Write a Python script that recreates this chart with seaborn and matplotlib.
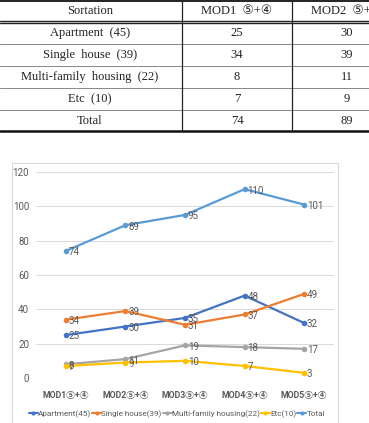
import pandas as pd
import numpy as np
import matplotlib
matplotlib.use('Agg')
import matplotlib.pyplot as plt
import seaborn as sns
from matplotlib.lines import Line2D

# table data
table_cols = ['Sortation', 'MOD1  ⑤+④', 'MOD2  ⑤+④']
table_rows = ['Apartment  (45)', 'Single  house  (39)', 'Multi-family  housing  (22)', 'Etc  (10)', 'Total']
table_mod1 = [25, 34, 8, 7, 74]
table_mod2 = [30, 39, 11, 9, 89]

# chart data
mods = ['MOD1⑤+④', 'MOD2⑤+④', 'MOD3⑤+④', 'MOD4⑤+④', 'MOD5⑤+④']
apartment = [25, 30, 35, 48, 32]
single_house = [34, 39, 31, 37, 49]
multi_family = [8, 11, 19, 18, 17]
etc = [7, 9, 10, 7, 3]
total = [74, 89, 95, 110, 101]

series = {
    'Apartment(45)': apartment,
    'Single house(39)': single_house,
    'Multi-family housing(22)': multi_family,
    'Etc(10)': etc,
    'Total': total,
}
colors = {
    'Apartment(45)': '#4472C4',
    'Single house(39)': '#ED7D31',
    'Multi-family housing(22)': '#A5A5A5',
    'Etc(10)': '#FFC000',
    'Total': '#5B9BD5',
}

df = pd.DataFrame([(name, m, v) for name, vals in series.items() for m, v in zip(mods, vals)],
                  columns=['series', 'mod', 'value'])

sns.set_style('white')
W, H = 369, 423
fig = plt.figure(figsize=(W / 100, H / 100), dpi=100)
sans = ['Roboto', 'Noto Sans CJK KR', 'DejaVu Sans']
serif = ['Liberation Serif', 'DejaVu Sans']

# ---- table drawn in pixel coordinates ----
tab = fig.add_axes([0, 0, 1, 1])
tab.set_xlim(0, W)
tab.set_ylim(H, 0)
tab.axis('off')

tab.plot([0, W], [0.8, 0.8], color='#222222', lw=1.4)
tab.plot([0, W], [21.5, 21.5], color='#222222', lw=1.0)
tab.plot([0, W], [23.2, 23.2], color='#222222', lw=1.0)
for y in [44, 66, 88, 110]:
    tab.plot([0, W], [y, y], color='#888888', lw=0.7)
tab.plot([0, W], [131, 131], color='#111111', lw=1.8)
for x in [182, 292]:
    tab.plot([x, x], [0, 131], color='#222222', lw=0.9)

col_x = [90, 237, 347]
for cx, txt in zip(col_x, table_cols):
    tab.text(cx, 11.5, txt, ha='center', va='center', fontsize=9, family=serif, color='#222222')
for i, name in enumerate(table_rows):
    cy = 33 + 22 * i
    tab.text(col_x[0], cy, name, ha='center', va='center', fontsize=9, family=serif, color='#222222')
    tab.text(col_x[1], cy, str(table_mod1[i]), ha='center', va='center', fontsize=9, family=serif, color='#222222')
    tab.text(col_x[2], cy, str(table_mod2[i]), ha='center', va='center', fontsize=9, family=serif, color='#222222')

# chart frame
tab.add_patch(plt.Rectangle((12, 163), 326, 265, fill=False, ec='#D9D9D9', lw=0.8))

# ---- line chart ----
ax = fig.add_axes([36 / W, (H - 378) / H, 298 / W, 206 / H])
sns.lineplot(data=df, x='mod', y='value', hue='series', palette=colors, marker='o',
             markersize=4, markeredgewidth=0, linewidth=1.6, ax=ax, legend=False, sort=False)
ax.set_xlim(-0.5, 4.5)
ax.set_ylim(0, 120)
ax.set_yticks(range(0, 121, 20))
ax.grid(axis='y', color='#D9D9D9', lw=0.7)
ax.set_axisbelow(True)
for s in ax.spines.values():
    s.set_visible(False)
ax.set_xlabel('')
ax.set_ylabel('')
ax.tick_params(length=0, labelcolor='#595959')
ax.tick_params(axis='y', pad=5, labelsize=7)
ax.tick_params(axis='x', pad=9, labelsize=6.3)
for lab in ax.get_xticklabels():
    lab.set_fontweight('bold')
    lab.set_family(sans)
for lab in ax.get_yticklabels():
    lab.set_family(sans)

for name, vals in series.items():
    for i, v in enumerate(vals):
        ax.annotate(str(v), (i, v), xytext=(2, -1), textcoords='offset points',
                    ha='left', va='center', fontsize=7, color='#595959', family=sans)

handles = [Line2D([], [], color=colors[n], marker='o', markersize=3, lw=1.5, markeredgewidth=0)
           for n in series]
fig.legend(handles, list(series.keys()), loc='center', bbox_to_anchor=(177 / W, (H - 414) / H),
           ncol=5, frameon=False, handlelength=1.1, handletextpad=0.05,
           columnspacing=0.1, labelcolor='#595959',
           prop={'family': sans, 'size': 5.9})

fig.savefig('out.png', dpi=100)
